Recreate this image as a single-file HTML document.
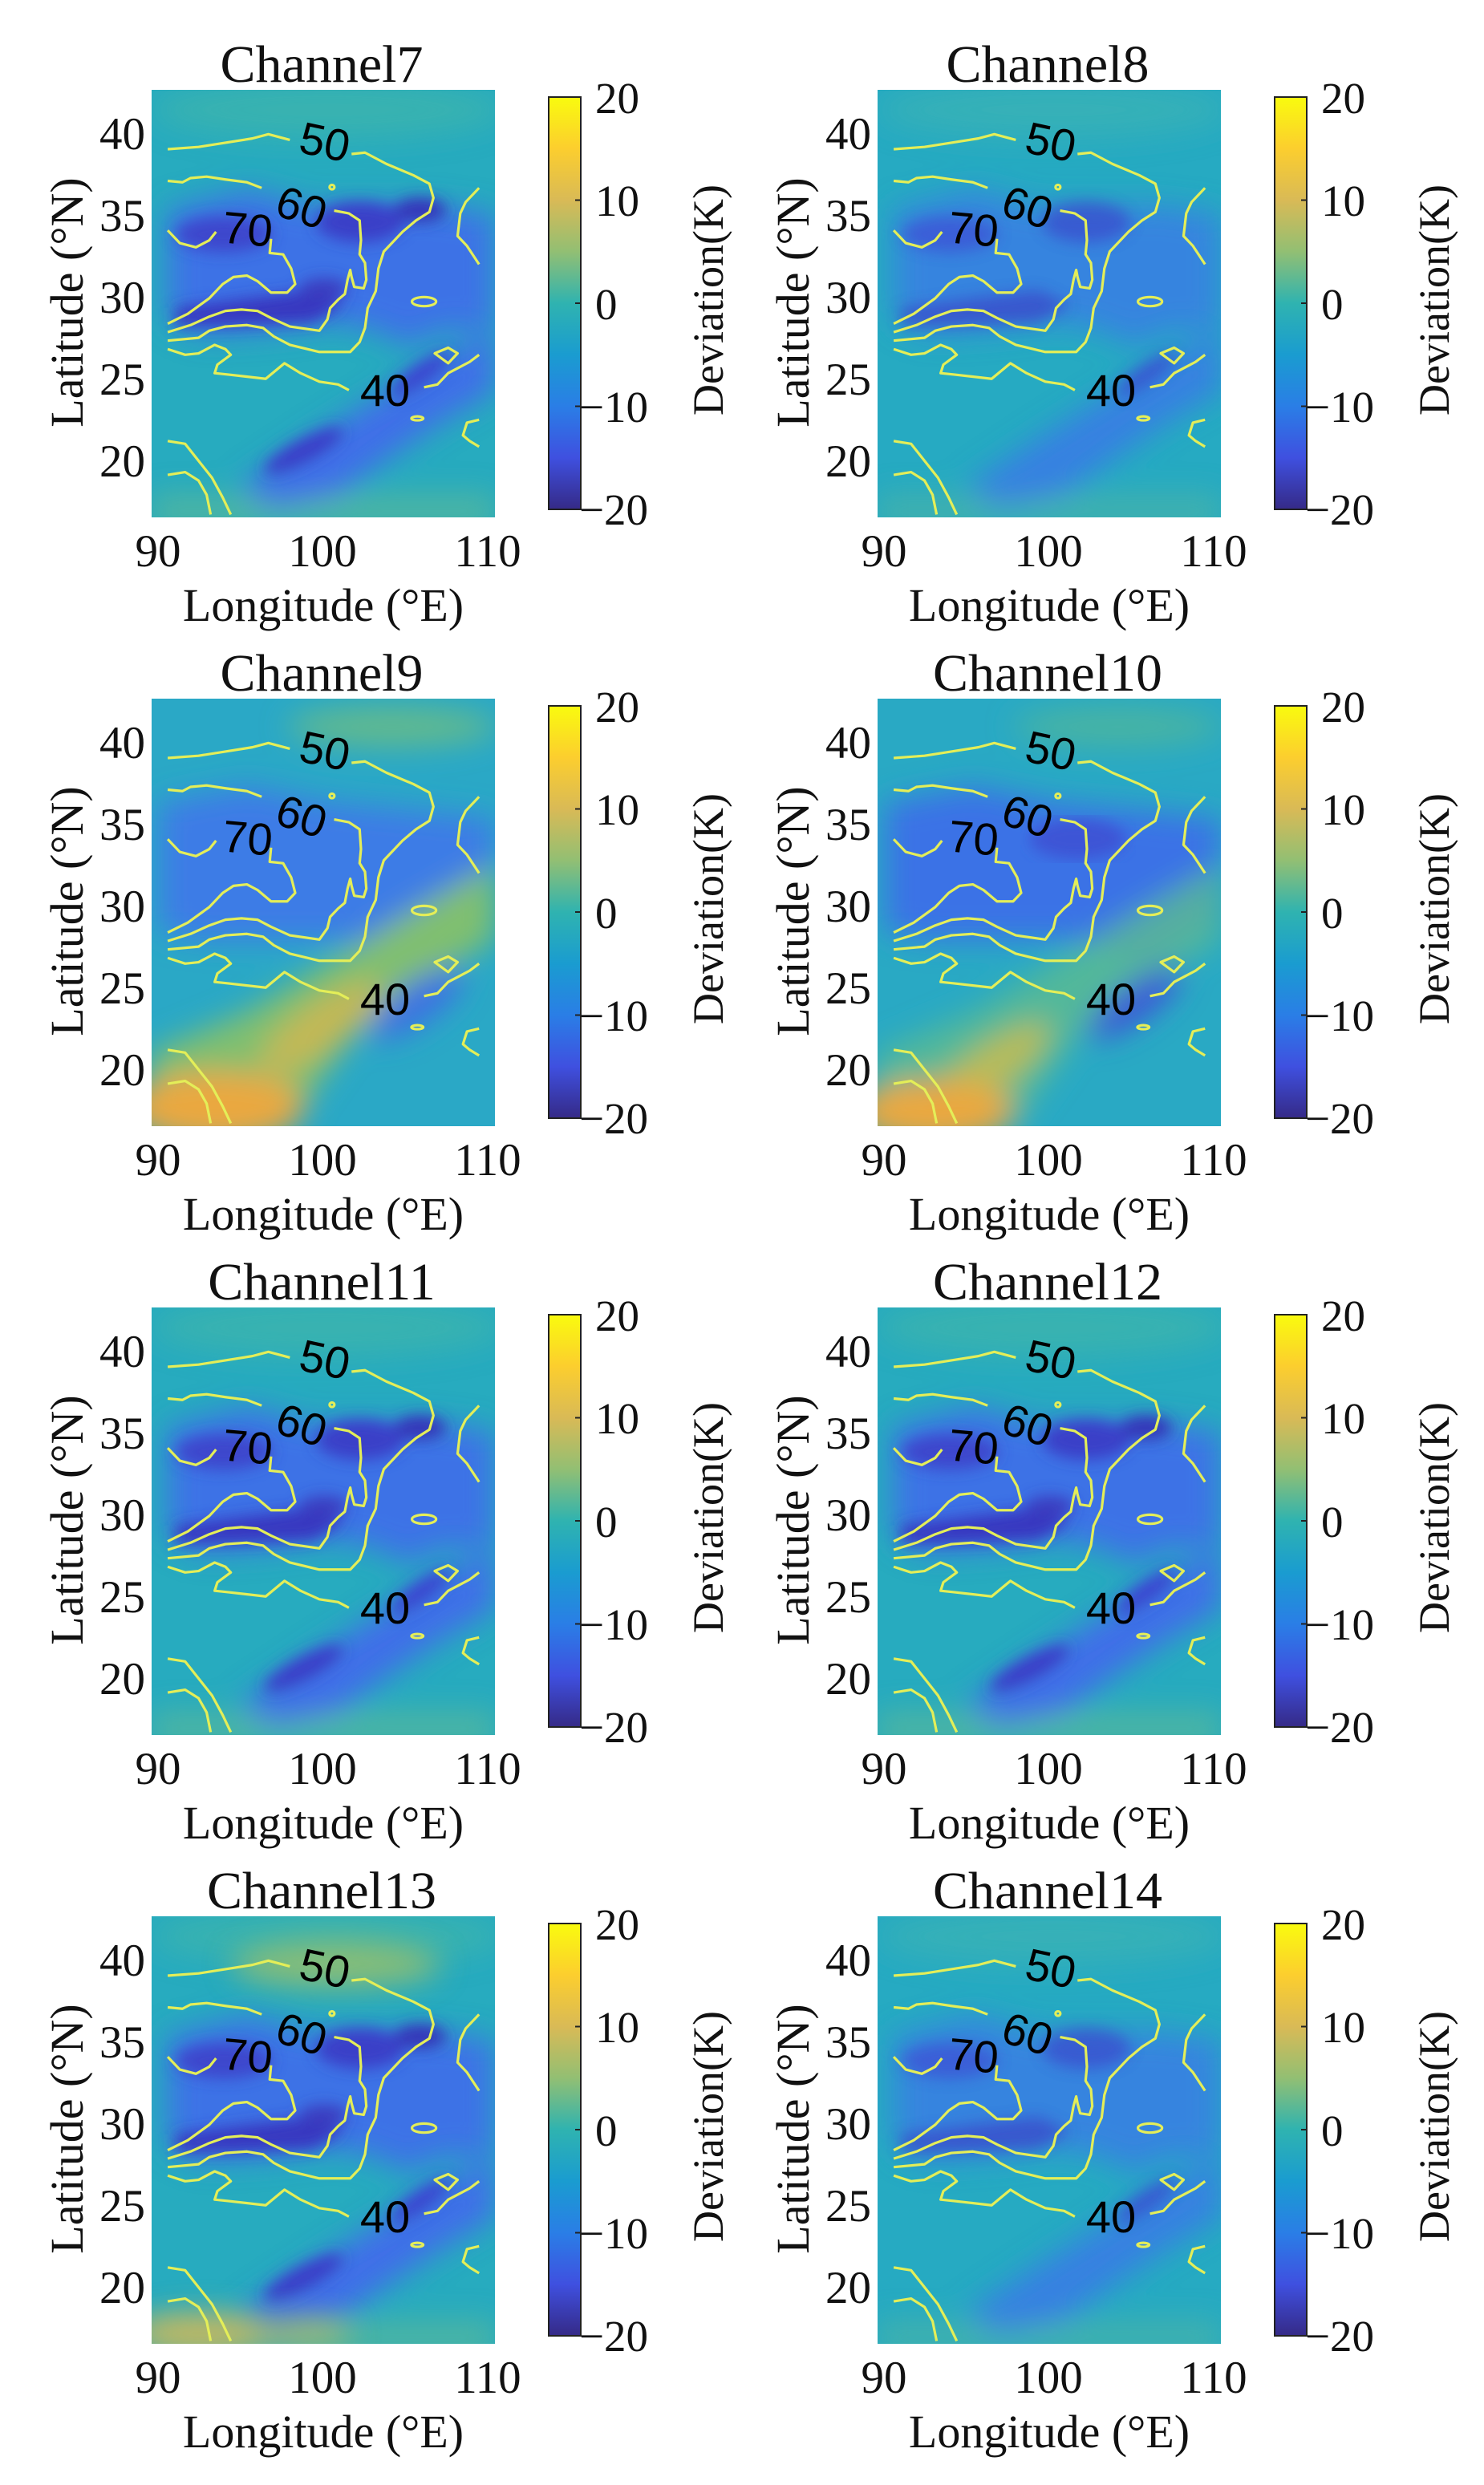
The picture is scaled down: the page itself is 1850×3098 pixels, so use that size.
<!DOCTYPE html>
<html><head><meta charset="utf-8">
<style>
html,body{margin:0;padding:0;background:#fff;}
svg{display:block;}
.ct *{vector-effect:non-scaling-stroke;}
.sf{font-family:"Liberation Serif",serif;fill:#111;}
.ss{font-family:"Liberation Sans",sans-serif;fill:#000;}
</style></head>
<body>
<svg width="1850" height="3098" viewBox="0 0 1850 3098" xmlns="http://www.w3.org/2000/svg">
<defs>
  <filter id="bl" x="-10%" y="-10%" width="120%" height="120%"><feGaussianBlur stdDeviation="9"/></filter>
  <filter id="bl2" x="-10%" y="-10%" width="120%" height="120%"><feGaussianBlur stdDeviation="18"/></filter>
  <clipPath id="mc"><rect x="0" y="0" width="428" height="533"/></clipPath>
  <linearGradient id="cbg" x1="0" y1="0" x2="0" y2="1">
    <stop offset="0" stop-color="#f9fb0e"/>
    <stop offset="0.125" stop-color="#fcce2e"/>
    <stop offset="0.25" stop-color="#d9ba56"/>
    <stop offset="0.375" stop-color="#92bf73"/>
    <stop offset="0.5" stop-color="#2fb3b0"/>
    <stop offset="0.625" stop-color="#1a9cd0"/>
    <stop offset="0.75" stop-color="#2a7ee6"/>
    <stop offset="0.875" stop-color="#3f50e0"/>
    <stop offset="1" stop-color="#352a87"/>
  </linearGradient>

  <g id="cont" class="ct" transform="scale(0.3346,0.3525) translate(-25,-28)" fill="none" stroke="#e4ee58" stroke-width="3.2" stroke-linejoin="round">
    <polyline points="85,238 200,230 300,215 400,200 460,185 540,205"/>
    <polyline points="770,255 820,250 900,290 1000,330 1060,360 1075,410 1060,460 1010,490 960,530 890,600 870,660 860,740 830,800 820,870 800,920 765,955 650,955 540,930 480,900 440,870 380,860 300,865 240,880 200,905 85,915"/>
    <polyline points="85,350 140,355 170,340 230,335 300,345 380,355 435,375"/>
    <polyline points="705,455 760,465 800,490 805,560 800,610 820,640 825,700 815,730 780,725 770,690 765,665 755,700 745,750 720,770 690,800 680,840 650,880 540,865 470,835 420,810 360,805 300,810 240,830 170,860 85,885"/>
    <polyline points="470,555 465,605 515,610 545,660 560,715 530,745 470,745 420,705 380,685 330,690 290,715 240,765 160,820 85,855"/>
    <polyline points="85,945 150,965 200,960 260,930 300,945 320,965 270,1000 260,1030 310,1035 450,1050 520,995 580,1030 650,1060 720,1070 760,1090"/>
    <polyline points="1040,1080 1090,1070 1130,1030 1170,1010 1210,990 1245,965"/>
    <polygon points="1080,960 1130,940 1165,960 1130,995"/>
    <ellipse cx="1040" cy="777" rx="45" ry="16"/>
    <ellipse cx="1015" cy="1190" rx="22" ry="7"/>
    <ellipse cx="697" cy="372" rx="9" ry="8"/>
    <polyline points="1245,375 1195,425 1175,465 1165,545 1200,580 1245,645"/>
    <polyline points="1245,1195 1200,1205 1185,1250 1210,1270 1245,1290"/>
    <polyline points="85,1270 150,1280 200,1340 250,1400 290,1470 320,1530"/>
    <polyline points="85,1390 150,1380 200,1410 230,1460 245,1530"/>
    <polyline points="85,525 130,570 190,585 240,560 265,530"/>
  </g>
  <g id="clab" class="ss" font-size="56" text-anchor="middle">
    <text transform="translate(212,84) rotate(12)">50</text>
    <text transform="translate(181,165) rotate(18)">60</text>
    <text transform="translate(118,193) rotate(5)">70</text>
    <text transform="translate(291,394)">40</text>
  </g>

  <g id="hA">
    <rect x="-20" y="-20" width="470" height="580" fill="#27abbf"/>
    <g filter="url(#bl2)">
      <ellipse cx="220" cy="25" rx="220" ry="35" fill="#45b8a6" opacity="0.6"/>
      <rect x="0" y="505" width="428" height="40" fill="#70bd88" opacity="0.55"/>
      <polygon points="20,150 120,125 200,145 280,145 350,145 428,155 428,300 360,300 320,320 280,300 230,290 150,300 60,305 20,285" fill="#3e72e6"/>
      <polygon points="110,495 200,435 280,385 360,335 428,300 428,375 360,415 300,455 230,505 150,520" fill="#3f6ee8"/>
    </g>
    <g filter="url(#bl)">
      <ellipse cx="90" cy="180" rx="60" ry="22" fill="#3c46cc"/>
      <ellipse cx="260" cy="165" rx="55" ry="25" fill="#3a40c8"/>
      <ellipse cx="335" cy="150" rx="32" ry="15" fill="#3535b8"/>
      <polygon points="30,272 120,260 200,250 240,268 200,290 100,294 30,294" fill="#3838c0"/>
      <ellipse cx="215" cy="248" rx="30" ry="13" fill="#3a3cc0"/>
      <ellipse cx="190" cy="450" rx="55" ry="14" transform="rotate(-28 190 450)" fill="#3a3cc8"/>
      <ellipse cx="335" cy="355" rx="45" ry="12" transform="rotate(-35 335 355)" fill="#3a44d0"/>
    </g>
  </g>
  <g id="hAl">
    <rect x="-20" y="-20" width="470" height="580" fill="#26aac2"/>
    <g filter="url(#bl2)">
      <ellipse cx="220" cy="25" rx="220" ry="35" fill="#40b5b0" opacity="0.6"/>
      <rect x="0" y="505" width="428" height="40" fill="#5cba98" opacity="0.5"/>
      <polygon points="20,150 120,125 200,145 280,145 350,145 428,155 428,300 360,300 320,320 280,300 230,290 150,300 60,305 20,285" fill="#3a7ee4" opacity="0.85"/>
      <polygon points="110,495 200,435 280,385 360,335 428,300 428,375 360,415 300,455 230,505 150,520" fill="#3a7ae6" opacity="0.85"/>
    </g>
    <g filter="url(#bl)" opacity="0.7">
      <ellipse cx="90" cy="180" rx="60" ry="22" fill="#3c50d4"/>
      <ellipse cx="260" cy="165" rx="55" ry="25" fill="#3a48cc"/>
      <polygon points="30,272 120,260 200,250 240,268 200,290 100,294 30,294" fill="#3a45c8"/>
      <ellipse cx="335" cy="355" rx="45" ry="12" transform="rotate(-35 335 355)" fill="#3a44d0"/>
    </g>
  </g>
  <g id="hB">
    <rect x="-20" y="-20" width="470" height="580" fill="#2aa8c6"/>
    <g filter="url(#bl2)">
      <ellipse cx="300" cy="35" rx="130" ry="25" fill="#70be80" opacity="0.8"/>
      <polygon points="10,130 120,110 220,130 330,140 428,150 428,270 330,330 250,300 150,300 60,300 10,290" fill="#3d7ce6"/>
      <polygon points="0,533 0,440 120,390 250,310 340,255 428,205 428,300 330,360 250,420 170,533" fill="#80bf70"/>
      <ellipse cx="210" cy="410" rx="90" ry="30" transform="rotate(-35 210 410)" fill="#c4b854"/>
      <ellipse cx="80" cy="510" rx="110" ry="45" fill="#eaa840"/>
      <ellipse cx="330" cy="380" rx="70" ry="25" transform="rotate(-35 330 380)" fill="#3e6ee4"/>
    </g>
  </g>
  <g id="hB2">
    <rect x="-20" y="-20" width="470" height="580" fill="#29a9c4"/>
    <g filter="url(#bl2)">
      <ellipse cx="300" cy="35" rx="130" ry="25" fill="#55b896" opacity="0.7"/>
      <polygon points="10,130 120,110 220,130 330,140 428,150 428,270 330,330 250,300 150,300 60,300 10,290" fill="#3b72e6"/>
      <polygon points="0,533 0,440 120,390 250,310 340,255 428,205 428,300 330,360 250,420 170,533" fill="#5cbc90" opacity="0.8"/>
      <ellipse cx="140" cy="460" rx="90" ry="30" transform="rotate(-35 140 460)" fill="#b8bb5a"/>
      <ellipse cx="70" cy="515" rx="100" ry="40" fill="#eaa840"/>
      <ellipse cx="320" cy="380" rx="70" ry="22" transform="rotate(-35 320 380)" fill="#3d52d8"/>
    </g>
    <g filter="url(#bl)">
      <ellipse cx="250" cy="175" rx="60" ry="25" fill="#3d55d6"/>
    </g>
  </g>
  <g id="hC">
    <use href="#hA"/>
    <g filter="url(#bl2)">
      <ellipse cx="230" cy="60" rx="130" ry="30" fill="#9cc068" opacity="0.8"/>
      <ellipse cx="60" cy="520" rx="90" ry="25" fill="#d2b85a" opacity="0.9"/>
      <ellipse cx="190" cy="520" rx="60" ry="18" fill="#b0bd60" opacity="0.8"/>
    </g>
  </g>

  <g id="axes">
    <g class="sf" font-size="57" text-anchor="end">
      <text x="-8" y="74">40</text>
      <text x="-8" y="176">35</text>
      <text x="-8" y="278">30</text>
      <text x="-8" y="380">25</text>
      <text x="-8" y="482">20</text>
    </g>
    <g class="sf" font-size="57" text-anchor="middle">
      <text x="8" y="594">90</text>
      <text x="213" y="594">100</text>
      <text x="419" y="594">110</text>
      <text x="214" y="662" font-size="58">Longitude (°E)</text>
      <text transform="translate(-86,265) rotate(-90)" font-size="58">Latitude (°N)</text>
      <text transform="translate(712,262) rotate(-90)" font-size="54">Deviation(K)</text>
    </g>
    <rect x="495" y="9" width="40" height="514" fill="url(#cbg)" stroke="#222" stroke-width="2"/>
    <g stroke="#222" stroke-width="2">
      <line x1="528" y1="137.5" x2="535" y2="137.5"/>
      <line x1="528" y1="266" x2="535" y2="266"/>
      <line x1="528" y1="394.5" x2="535" y2="394.5"/>
    </g>
    <g class="sf" font-size="55">
      <text x="553" y="29">20</text>
      <text x="553" y="157">10</text>
      <text x="553" y="286">0</text>
      <text x="533" y="414">−10</text>
      <text x="533" y="542">−20</text>
    </g>
  </g>
</defs>

<g transform="translate(189,112)">
  <g clip-path="url(#mc)"><use href="#hA"/></g>
  <use href="#cont"/><use href="#clab"/><use href="#axes"/>
  <text class="sf" x="212" y="-10" font-size="66" text-anchor="middle">Channel7</text>
</g>
<g transform="translate(1094,112)">
  <g clip-path="url(#mc)"><use href="#hAl"/></g>
  <use href="#cont"/><use href="#clab"/><use href="#axes"/>
  <text class="sf" x="212" y="-10" font-size="66" text-anchor="middle">Channel8</text>
</g>
<g transform="translate(189,871)">
  <g clip-path="url(#mc)"><use href="#hB"/></g>
  <use href="#cont"/><use href="#clab"/><use href="#axes"/>
  <text class="sf" x="212" y="-10" font-size="66" text-anchor="middle">Channel9</text>
</g>
<g transform="translate(1094,871)">
  <g clip-path="url(#mc)"><use href="#hB2"/></g>
  <use href="#cont"/><use href="#clab"/><use href="#axes"/>
  <text class="sf" x="212" y="-10" font-size="66" text-anchor="middle">Channel10</text>
</g>
<g transform="translate(189,1630)">
  <g clip-path="url(#mc)"><use href="#hA"/></g>
  <use href="#cont"/><use href="#clab"/><use href="#axes"/>
  <text class="sf" x="212" y="-10" font-size="66" text-anchor="middle">Channel11</text>
</g>
<g transform="translate(1094,1630)">
  <g clip-path="url(#mc)"><use href="#hA"/></g>
  <use href="#cont"/><use href="#clab"/><use href="#axes"/>
  <text class="sf" x="212" y="-10" font-size="66" text-anchor="middle">Channel12</text>
</g>
<g transform="translate(189,2389)">
  <g clip-path="url(#mc)"><use href="#hC"/></g>
  <use href="#cont"/><use href="#clab"/><use href="#axes"/>
  <text class="sf" x="212" y="-10" font-size="66" text-anchor="middle">Channel13</text>
</g>
<g transform="translate(1094,2389)">
  <g clip-path="url(#mc)"><use href="#hAl"/></g>
  <use href="#cont"/><use href="#clab"/><use href="#axes"/>
  <text class="sf" x="212" y="-10" font-size="66" text-anchor="middle">Channel14</text>
</g>
</svg>
</body></html>
